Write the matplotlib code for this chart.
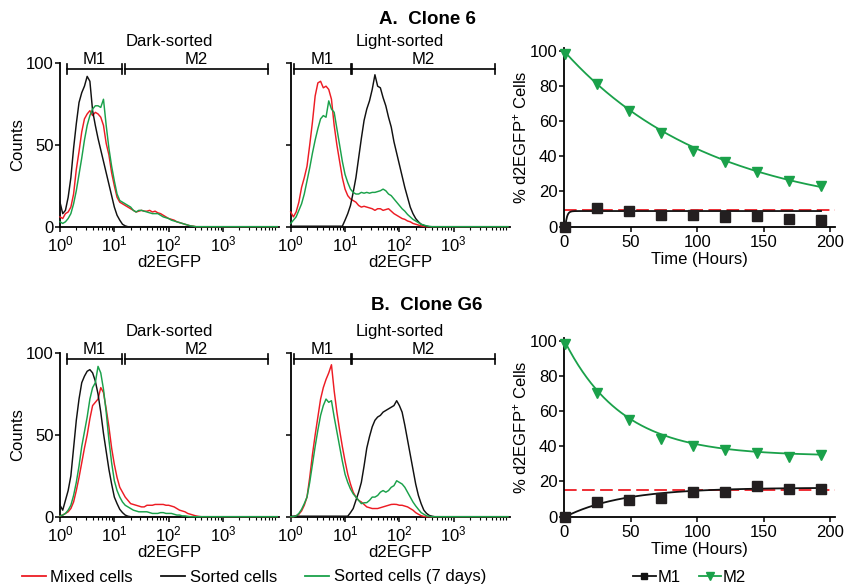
import numpy as np
import matplotlib
matplotlib.use("Agg")
import matplotlib.pyplot as plt
from matplotlib.lines import Line2D
from matplotlib.ticker import FixedLocator, LogLocator, NullFormatter

plt.rcParams['font.family'] = ['Liberation Sans', 'DejaVu Sans']
plt.rcParams['mathtext.fontset'] = 'custom'
plt.rcParams['mathtext.rm'] = 'Liberation Sans'
plt.rcParams['mathtext.it'] = 'Liberation Sans:italic'
plt.rcParams['mathtext.bf'] = 'Liberation Sans:bold'
plt.rcParams['mathtext.default'] = 'regular'

RED = '#ed1c24'
GREEN = '#1aa14a'
BLACK = '#111111'

# ---- flow cytometry histograms: counts per log10(d2EGFP) channel bin ----
# bins run from 10^0 to 10^4 in steps of 0.05 decade; channels above the
# listed values are empty
log_bins = np.round(np.arange(0.0, 4.001, 0.05), 2)

# Clone 6, dark-sorted
a_dark_mixed = [6, 5, 8, 9, 12, 20, 35, 46, 58, 66,
                69, 71, 68, 70, 69, 67, 62, 51, 44, 33,
                25, 18, 15, 14, 13, 12, 11, 10, 9, 9.5,
                10, 9.5, 9.5, 10, 9, 9.5, 8.5, 8, 7, 6,
                5, 4.5, 4, 3, 2.5, 2, 1.5, 1, 0.5, 0.3]
a_dark_sorted = [15, 8, 10, 18, 30, 48, 63, 76, 82, 86,
                 92, 89, 71, 62, 54, 47, 40, 33, 26, 19,
                 12, 7, 4, 1.5, 0.5]
a_dark_7days = [3, 2, 3, 5, 8, 14, 22, 32, 42, 53,
                62, 68, 72, 74, 74, 73, 78, 62, 48, 37,
                28, 20, 16, 15, 14, 13, 12, 10, 9, 10,
                10, 9.5, 9, 8.5, 8, 8, 8, 7, 6, 5.5,
                5, 4, 3.5, 3, 2.5, 2, 1.5, 1, 0.5, 0.3]
# Clone 6, light-sorted
a_light_mixed = [9, 6, 9, 15, 24, 30, 37, 50, 64, 80,
                 88, 89, 85, 86, 84, 78, 62, 50, 40, 30,
                 23, 19, 17, 16, 15, 13, 12, 12.5, 12, 11.5,
                 11, 10, 11, 11, 10, 10.5, 11, 9.5, 8, 7,
                 6, 5, 4.5, 3.5, 3, 2, 1.5, 1, 0.5, 0.2]
a_light_sorted = [0.3, 0.3, 0.3, 0.3, 0.3, 0.3, 0.3, 0.3, 0.3, 0.3,
                  0.3, 0.3, 0.3, 0.3, 0.3, 0.3, 0.3, 0.3, 0.3, 0.3,
                  4, 8, 13, 21, 30, 42, 54, 65, 72, 77,
                  84, 93, 86, 85, 79, 74, 67, 61, 52, 45,
                  38, 31, 24, 18, 12, 8, 5, 3, 1.5, 0.8,
                  0.3]
a_light_7days = [2, 4, 6, 10, 14, 20, 28, 36, 45, 53,
                 60, 66, 68, 67, 77, 72, 70, 60, 50, 40,
                 32, 27, 23, 21, 20, 20, 21, 20.5, 21, 20.5,
                 21, 21, 21.5, 22, 23, 22, 20, 19, 17, 15,
                 13, 11, 9.5, 7.5, 6, 4.5, 3.5, 2.5, 1.5, 1,
                 0.5, 0.2]
# Clone G6, dark-sorted
b_dark_mixed = [0.5, 1, 2, 3, 5, 9, 16, 24, 33, 42,
                50, 60, 68, 70, 72, 79, 76, 66, 55, 42,
                32, 24, 18, 15, 12, 10, 8, 7.5, 7, 6.5,
                6, 6, 7, 7, 7, 7.5, 7.5, 7.5, 7.5, 7,
                7, 6.5, 6, 5, 4, 3.5, 3, 2, 1.5, 1,
                0.5, 0.2]
b_dark_sorted = [7, 4, 10, 16, 25, 42, 59, 72, 82, 86,
                 89, 90, 88, 83, 75, 64, 51, 40, 29, 20,
                 12, 8, 4.5, 2.5, 1, 0.3]
b_dark_7days = [0.5, 1, 2, 4, 7, 13, 21, 31, 43, 52,
                61, 72, 79, 82, 92, 88, 78, 64, 47, 33,
                22, 16, 12, 9, 7, 6, 5, 4, 3.5, 3,
                3, 3, 3, 2.5, 2, 2, 2, 2.5, 2.5, 2,
                2, 2, 1.5, 1, 1, 0.5, 0.5, 0.2]
# Clone G6, light-sorted
b_light_mixed = [0, 0, 0.5, 1.5, 3.5, 7, 12, 24, 38, 50,
                 61, 72, 79, 84, 88, 93, 77, 64, 53, 43,
                 34, 26, 20, 15, 12, 10, 9, 7.5, 6, 5.5,
                 5, 5, 5, 5.5, 6, 6.5, 7, 7.5, 7.6, 7.5,
                 7, 7, 6.5, 6, 5, 4, 2.5, 1.5, 0.6, 0.2]
b_light_sorted = [0.3, 0.3, 0.3, 0.3, 0.3, 0.3, 0.3, 0.3, 0.3, 0.3,
                  0.3, 0.3, 0.3, 0.3, 0.3, 0.3, 0.3, 0.3, 0.3, 0.3,
                  0.3, 0.3, 2.5, 5, 10, 15, 21, 31, 42, 49,
                  55, 59, 61, 62, 64, 65, 66, 67, 68, 71,
                  68, 64, 56, 47, 38, 29, 20, 13, 8, 4,
                  2, 0.8, 0.3]
b_light_7days = [0, 0, 0.5, 2, 4.5, 8, 12, 21, 32, 43,
                 53, 62, 68, 72, 70, 71, 61, 52, 43, 34,
                 26, 21, 17, 14, 12, 10, 8, 8.5, 8.6, 10,
                 12, 12, 13, 15, 16, 15, 16, 18, 19, 22,
                 21, 20, 18, 15, 12, 9, 6.6, 4.5, 2.5, 1.5,
                 0.5, 0.2]

# gate limits (d2EGFP intensity)
dark_m1_gate = (1.33, 13.8)
dark_m2_gate = (15.4, 6800.0)
light_m1_gate = (1.15, 12.7)
light_m2_gate = (13.7, 5750.0)
GATE_LEVEL = 96.5

# ---- % d2EGFP+ cells over time after light-sorting ----
hours = [1, 25, 49, 73, 97, 121, 145, 169, 193]
a_m1 = [0, 10.4, 9.2, 6.8, 6.4, 5.5, 6.2, 4.4, 4.0]
a_m2 = [98, 81, 66, 53, 43, 37, 31, 26, 23]
b_m1 = [0, 8.5, 9.5, 10.5, 14, 14, 17.5, 15.5, 16]
b_m2 = [98, 70, 55, 44, 40, 38, 36, 34, 35]
a_mixed_m1 = 9.6
b_mixed_m1 = 15.3
# one-phase exponential fits: (plateau, rate per hour) and (plateau, span, rate per hour)
a_m1_fit = (8.9, 0.8)
a_m2_fit = (6.0, 93.0, 0.009)
b_m1_fit = (16.5, 0.023)
b_m2_fit = (34.5, 64.5, 0.023)

W, H = 844, 586
fig = plt.figure(figsize=(W / 100, H / 100), dpi=100)


def rect(left, right, top, bottom):
    return [left / W, 1 - bottom / H, (right - left) / W, (bottom - top) / H]


FS = 12


def full(values):
    """Counts for every channel bin; bins past the listed ones are empty."""
    return list(values) + [0.0] * (len(log_bins) - len(values))


def style_axes(ax):
    for s in ('top', 'right'):
        ax.spines[s].set_visible(False)
    for s in ('left', 'bottom'):
        ax.spines[s].set_linewidth(1.3)
        ax.spines[s].set_color('black')
    ax.tick_params(which='major', direction='out', length=3.5, width=1.1, labelsize=FS,
                   colors='black')
    ax.tick_params(axis='y', which='major', pad=1.2)
    ax.tick_params(axis='x', which='major', pad=2.2)
    ax.tick_params(which='minor', direction='out', length=2.2, width=0.8)


def histogram(ax, mixed, sorted_, week, m1, m2, title, show_ylabels):
    x = 10.0 ** log_bins
    ax.plot(x, full(mixed), color=RED, lw=1.05, zorder=3, clip_on=False)
    ax.plot(x, full(sorted_), color=BLACK, lw=1.05, zorder=3, clip_on=False)
    ax.plot(x, full(week), color=GREEN, lw=1.05, zorder=3, clip_on=False)
    ax.set_xscale('log')
    ax.set_xlim(1, 10 ** 4.03)
    ax.set_ylim(0, 100)
    ax.xaxis.set_major_locator(FixedLocator([1, 10, 100, 1000]))
    ax.xaxis.set_minor_locator(LogLocator(base=10, subs=np.arange(2, 10), numticks=20))
    ax.xaxis.set_minor_formatter(NullFormatter())
    ax.set_yticks([0, 50, 100])
    style_axes(ax)
    if show_ylabels:
        ax.set_ylabel('Counts', fontsize=FS, labelpad=0.5)
    else:
        ax.set_yticklabels([])
    ax.set_xlabel('d2EGFP', fontsize=FS, labelpad=0.5)
    ax.text(0.5, 1.132, title, transform=ax.transAxes, ha='center', va='center', fontsize=FS)
    # gate brackets
    for lo, hi in (m1, m2):
        ax.plot([lo, hi], [GATE_LEVEL, GATE_LEVEL], color='black', lw=1.2, clip_on=False)
        for xe in (lo, hi):
            ax.plot([xe, xe], [GATE_LEVEL - 3.2, GATE_LEVEL + 3.2], color='black', lw=1.2,
                    clip_on=False)
    for name, (lo, hi) in (('M1', m1), ('M2', m2)):
        ax.text(np.sqrt(lo * hi), 102.5, name, ha='center', va='center', fontsize=FS)


def timecourse(ax, m1, m2, mixed_level, m1_fit, m2_fit):
    t = np.array(hours, dtype=float)
    tt = np.linspace(t[0], t[-1], 300)
    p1, k1 = m1_fit
    p2, s2, k2 = m2_fit
    ax.axhline(mixed_level, color=RED, lw=1.3, dashes=(7, 3), zorder=2)
    ax.plot(tt, p1 * (1 - np.exp(-k1 * (tt - t[0]))), color=BLACK, lw=1.3, zorder=3)
    ax.plot(tt, p2 + s2 * np.exp(-k2 * (tt - t[0])), color=GREEN, lw=1.3, zorder=3)
    ax.plot(t, m1, 's', color='#231f20', ms=6.5, zorder=4, clip_on=False)
    ax.plot(t, m2, 'v', color=GREEN, ms=7, zorder=4, clip_on=False)
    ax.set_xlim(0, 203.5)
    ax.set_ylim(0, 101.7)
    ax.set_xticks([0, 50, 100, 150, 200])
    ax.set_yticks([0, 20, 40, 60, 80, 100])
    style_axes(ax)
    ax.set_ylabel('% d2EGFP$^{+}$ Cells', fontsize=FS, labelpad=0)
    ax.set_xlabel('Time (Hours)', fontsize=FS, labelpad=1.5)


ax = fig.add_axes(rect(60, 279, 63.3, 226.7))
histogram(ax, a_dark_mixed, a_dark_sorted, a_dark_7days, dark_m1_gate, dark_m2_gate,
          'Dark-sorted', True)
ax = fig.add_axes(rect(290.7, 509.7, 63.3, 226.7))
histogram(ax, a_light_mixed, a_light_sorted, a_light_7days, light_m1_gate, light_m2_gate,
          'Light-sorted', False)
ax = fig.add_axes(rect(60, 279, 353.3, 516.7))
histogram(ax, b_dark_mixed, b_dark_sorted, b_dark_7days, dark_m1_gate, dark_m2_gate,
          'Dark-sorted', True)
ax = fig.add_axes(rect(290.7, 509.7, 353.3, 516.7))
histogram(ax, b_light_mixed, b_light_sorted, b_light_7days, light_m1_gate, light_m2_gate,
          'Light-sorted', False)

ax = fig.add_axes(rect(564, 835, 47.7, 226.7))
timecourse(ax, a_m1, a_m2, a_mixed_m1, a_m1_fit, a_m2_fit)
ax = fig.add_axes(rect(564, 835, 337.7, 516.7))
timecourse(ax, b_m1, b_m2, b_mixed_m1, b_m1_fit, b_m2_fit)

fig.text(427 / W, 1 - 20 / H, 'A.  Clone 6', ha='center', va='center', fontsize=13.5,
         fontweight='bold')
fig.text(427 / W, 1 - 306 / H, 'B.  Clone G6', ha='center', va='center', fontsize=13.5,
         fontweight='bold')

hist_handles = [Line2D([], [], color=RED, lw=1.3), Line2D([], [], color=BLACK, lw=1.3),
                Line2D([], [], color=GREEN, lw=1.3)]
fig.legend(hist_handles, ['Mixed cells', 'Sorted cells', 'Sorted cells (7 days)'],
           loc='center left', bbox_to_anchor=(22 / W, 1 - 577 / H), ncol=3, frameon=False,
           fontsize=FS, handlelength=1.45, handletextpad=0.25, columnspacing=1.7,
           borderpad=0, borderaxespad=0)
gate_handles = [Line2D([], [], color=BLACK, lw=1.3, marker='s', ms=5),
                Line2D([], [], color=GREEN, lw=1.3, marker='v', ms=6)]
fig.legend(gate_handles, ['M1', 'M2'], loc='center left', bbox_to_anchor=(633 / W, 1 - 577 / H),
           ncol=2, frameon=False, fontsize=FS, handlelength=1.35, handletextpad=0.1,
           columnspacing=1.1, borderpad=0, borderaxespad=0)

fig.savefig('out.png', dpi=100)
